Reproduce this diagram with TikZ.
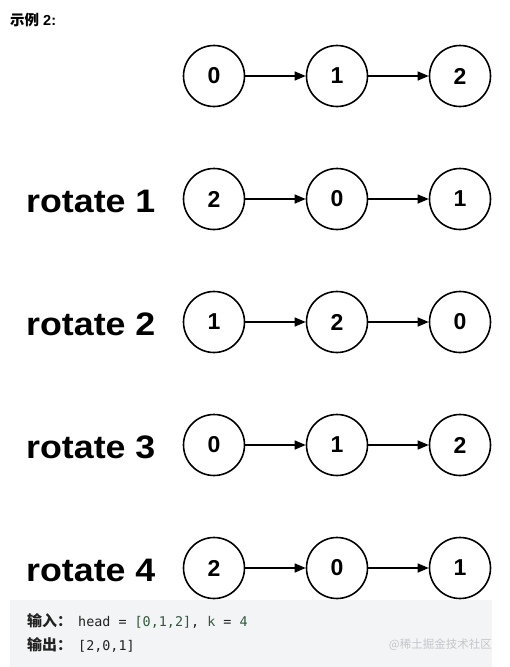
\documentclass[tikz,border=0pt]{standalone}
\usepackage{fontspec}
\setmainfont{Liberation Sans}
\setmonofont{DejaVu Sans Mono}
\newfontfamily\cjk{Noto Sans CJK SC}
\usetikzlibrary{arrows.meta}
\definecolor{codebg}{HTML}{F3F4F5}
\definecolor{codetx}{HTML}{222222}
\definecolor{numgreen}{HTML}{2F5A3C}
\definecolor{wm}{HTML}{C3C6CA}
\begin{document}
\begin{tikzpicture}[x=1pt,y=-1pt,
  nd/.style={circle,draw,line width=1.6pt,minimum size=61pt,inner sep=0pt,fill=white,
    font=\fontsize{23}{23}\selectfont\bfseries},
  lnk/.style={line width=1.4pt,-{Triangle[length=11pt,width=9pt]}},
  rot/.style={anchor=base west,inner sep=0pt,font=\fontsize{32.5}{32.5}\selectfont\bfseries,xscale=1.1}]
\useasboundingbox (0,0) rectangle (510,667);
\fill[codebg] (10,600) rectangle (492,667);
\node[anchor=west,inner sep=0pt,font=\fontsize{14.5}{14.5}\selectfont\bfseries] (title) at (10,20) {{\cjk 示例} 2:};
% row 0
\node[nd] (r0a) at (214,76) {0};
\node[nd] (r0b) at (337,76) {1};
\node[nd] (r0c) at (460,76) {2};
\draw[lnk] (r0a) -- (r0b);
\draw[lnk] (r0b) -- (r0c);
\foreach \r/\y/\a/\b/\c in {1/199/2/0/1, 2/322/1/2/0, 3/445/0/1/2, 4/568/2/0/1}{
  \node[rot] (lab\r) at (26,\y+13.5) {rotate \r};
  \node[nd] (r\r a) at (214,\y) {\a};
  \node[nd] (r\r b) at (337,\y) {\b};
  \node[nd] (r\r c) at (460,\y) {\c};
  \draw[lnk] (r\r a) -- (r\r b);
  \draw[lnk] (r\r b) -- (r\r c);
}
% code block
\node[anchor=west,inner sep=0pt,font=\fontsize{15}{15}\selectfont\bfseries\cjk,text=codetx] (in) at (27,621) {输入：};
\node[anchor=west,inner sep=0pt,font=\fontsize{13.4}{13.4}\selectfont\ttfamily,text=codetx] (inv) at (78,622) {head = \textcolor{numgreen}{[0,1,2]}, \textcolor{numgreen}{k} = \textcolor{numgreen}{4}};
\node[anchor=west,inner sep=0pt,font=\fontsize{15}{15}\selectfont\bfseries\cjk,text=codetx] (out) at (27,645) {输出：};
\node[anchor=west,inner sep=0pt,font=\fontsize{13.4}{13.4}\selectfont\ttfamily,text=codetx] (outv) at (78,646) {[2,0,1]};
\node[anchor=east,inner sep=0pt,font=\fontsize{11.5}{11.5}\selectfont\cjk,text=wm] (wmk) at (492,645) {@稀土掘金技术社区};
\end{tikzpicture}
\end{document}
